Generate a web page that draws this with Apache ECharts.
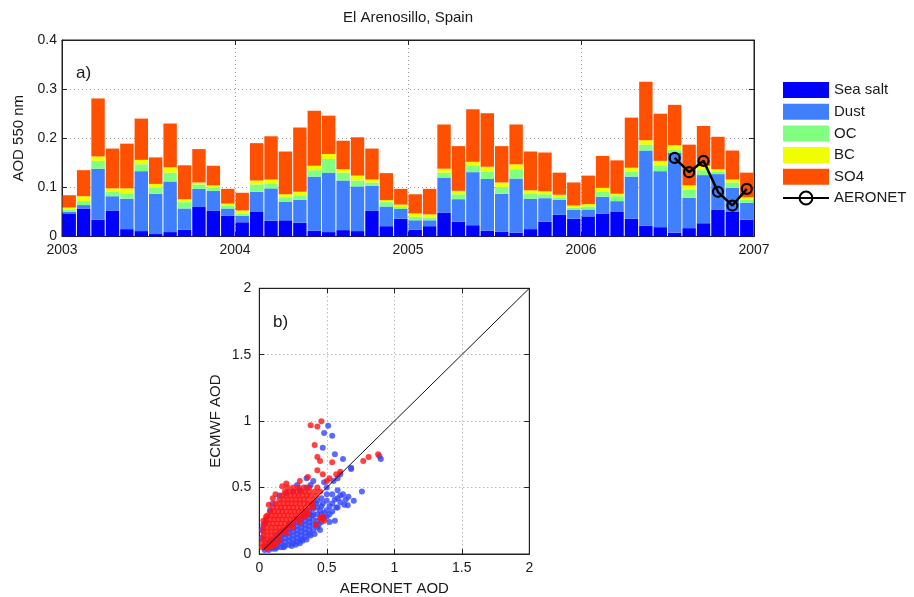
<!DOCTYPE html>
<html>
<head>
<meta charset="utf-8">
<script src="https://cdn.jsdelivr.net/npm/echarts@6/dist/echarts.min.js"></script>
<style>html,body{margin:0;padding:0;background:#fff;}#c{width:914px;height:597px;}</style>
</head>
<body>
<div id="c"></div>
<script>
// ---- Panel a) monthly stacked AOD components, Jan 2003 .. Dec 2006 ----
const months = ['2003-01','2003-02','2003-03','2003-04','2003-05','2003-06','2003-07','2003-08','2003-09','2003-10','2003-11','2003-12',
  '2004-01','2004-02','2004-03','2004-04','2004-05','2004-06','2004-07','2004-08','2004-09','2004-10','2004-11','2004-12',
  '2005-01','2005-02','2005-03','2005-04','2005-05','2005-06','2005-07','2005-08','2005-09','2005-10','2005-11','2005-12',
  '2006-01','2006-02','2006-03','2006-04','2006-05','2006-06','2006-07','2006-08','2006-09','2006-10','2006-11','2006-12'];
const seaSalt = [.047,.057,.034,.053,.015,.011,.005,.009,.014,.060,.052,.042,
  .029,.051,.032,.033,.028,.012,.009,.013,.011,.052,.021,.036,
  .014,.021,.048,.030,.023,.012,.010,.008,.015,.030,.044,.036,
  .041,.046,.051,.036,.022,.019,.008,.017,.027,.055,.050,.034];
const dust = [.003,.007,.104,.029,.062,.122,.082,.103,.043,.037,.041,.015,
  .013,.040,.066,.038,.047,.110,.121,.101,.091,.051,.040,.020,
  .019,.012,.072,.046,.108,.105,.077,.110,.062,.048,.031,.018,
  .014,.035,.021,.086,.153,.114,.162,.062,.098,.072,.049,.035];
const oc = [.005,.008,.016,.009,.011,.014,.012,.018,.013,.009,.006,.006,
  .004,.015,.010,.009,.009,.013,.028,.016,.012,.007,.009,.004,
  .007,.005,.010,.010,.014,.015,.014,.019,.010,.008,.005,.005,
  .006,.011,.010,.010,.012,.012,.007,.017,.010,.005,.011,.006];
const bc = [.004,.010,.009,.007,.010,.009,.008,.011,.006,.004,.005,.004,
  .007,.008,.008,.006,.007,.009,.010,.007,.010,.006,.004,.005,
  .007,.007,.008,.007,.007,.010,.009,.010,.007,.006,.005,.004,
  .005,.007,.005,.008,.009,.009,.009,.008,.009,.005,.006,.005];
const so4 = [.025,.053,.118,.081,.091,.084,.054,.089,.069,.068,.040,.030,
  .036,.076,.088,.087,.131,.112,.078,.058,.078,.063,.055,.032,
  .039,.052,.090,.091,.107,.109,.074,.081,.079,.079,.045,.047,
  .058,.065,.068,.102,.119,.096,.082,.083,.081,.066,.059,.050];
const aeronet = [null,null,null,null,null,null,null,null,null,null,null,null,
  null,null,null,null,null,null,null,null,null,null,null,null,
  null,null,null,null,null,null,null,null,null,null,null,null,
  null,null,null,null,null,null,.160,.131,.154,.091,.063,.097];
const yearTicks = ['2003','2004','2005','2006','2007'];
const aodTicks = ['0','0.1','0.2','0.3','0.4'];

// ---- Panel b) scatter ECMWF vs AERONET (hand-estimated representative points) ----
const bluePoints = [
  [0.04,0.03],[0.04,0.06],[0.07,0.03],[0.07,0.06],[0.07,0.09],[0.10,0.04],[0.10,0.07],[0.10,0.10],
  [0.13,0.05],[0.13,0.08],[0.13,0.11],[0.13,0.14],[0.16,0.05],[0.16,0.08],[0.16,0.11],[0.16,0.14],[0.16,0.17],
  [0.19,0.06],[0.19,0.09],[0.19,0.12],[0.19,0.15],[0.19,0.18],[0.22,0.07],[0.22,0.10],[0.22,0.13],[0.22,0.16],[0.22,0.19],[0.22,0.22],
  [0.25,0.08],[0.25,0.11],[0.25,0.14],[0.25,0.17],[0.25,0.20],[0.25,0.23],[0.28,0.09],[0.28,0.12],[0.28,0.15],[0.28,0.18],[0.28,0.21],[0.28,0.24],[0.28,0.27],
  [0.31,0.11],[0.31,0.14],[0.31,0.17],[0.31,0.20],[0.31,0.23],[0.31,0.26],[0.31,0.29],
  [0.34,0.13],[0.34,0.16],[0.34,0.19],[0.34,0.22],[0.34,0.25],[0.34,0.28],[0.34,0.31],
  [0.37,0.15],[0.37,0.18],[0.37,0.21],[0.37,0.24],[0.37,0.27],[0.37,0.30],[0.37,0.33],
  [0.40,0.18],[0.40,0.22],[0.40,0.26],[0.40,0.30],[0.40,0.34],[0.40,0.37],
  [0.43,0.20],[0.43,0.25],[0.43,0.30],[0.43,0.35],[0.43,0.40],[0.46,0.24],[0.46,0.30],[0.46,0.36],[0.46,0.42],
  [0.50,0.28],[0.50,0.33],[0.50,0.40],[0.50,0.45],[0.54,0.32],[0.54,0.38],[0.54,0.45],[0.58,0.35],[0.58,0.42],[0.58,0.48],
  [0.02,0.12],[0.02,0.18],[0.03,0.22],[0.05,0.24],[0.08,0.33],[0.10,0.38],[0.15,0.44],[0.20,0.46],[0.25,0.47],[0.30,0.48],
  [0.35,0.50],[0.38,0.52],[0.40,0.55],[0.35,0.57],[0.28,0.52],
  [0.51,0.965],[0.48,0.91],[0.54,0.89],[0.47,0.80],[0.56,0.75],[0.62,0.715],[0.90,0.715],[0.89,0.735],[0.68,0.64],[0.68,0.65],
  [0.58,0.57],[0.48,0.54],[0.76,0.47],[0.70,0.40],[0.655,0.367],[0.63,0.37],[0.57,0.35],[0.56,0.25],[0.48,0.31],[0.42,0.22],
  [0.60,0.60],[0.55,0.55],[0.50,0.50],[0.62,0.45],[0.66,0.43],[0.52,0.24],[0.45,0.18],[0.38,0.14],[0.32,0.10],[0.27,0.07],
  [0.12,0.04],[0.18,0.05],[0.24,0.06],[0.30,0.08],[0.35,0.11],[0.41,0.15],[0.44,0.22],[0.48,0.27],[0.52,0.30],[0.60,0.39],
  [0.64,0.41],[0.45,0.33],[0.39,0.29],[0.42,0.38],[0.47,0.38],[0.52,0.36],[0.56,0.41],[0.60,0.44]
];
const redPoints = [
  [0.02,0.05],[0.04,0.05],[0.06,0.05],[0.02,0.08],[0.05,0.08],[0.08,0.08],[0.03,0.11],[0.06,0.11],[0.09,0.11],[0.12,0.11],
  [0.03,0.14],[0.06,0.14],[0.09,0.14],[0.12,0.14],[0.15,0.14],[0.03,0.17],[0.06,0.17],[0.09,0.17],[0.12,0.17],[0.15,0.17],[0.18,0.17],
  [0.03,0.20],[0.06,0.20],[0.09,0.20],[0.12,0.20],[0.15,0.20],[0.18,0.20],[0.21,0.20],
  [0.04,0.23],[0.07,0.23],[0.10,0.23],[0.13,0.23],[0.16,0.23],[0.19,0.23],[0.22,0.23],[0.25,0.23],
  [0.05,0.26],[0.08,0.26],[0.11,0.26],[0.14,0.26],[0.17,0.26],[0.20,0.26],[0.23,0.26],[0.26,0.26],[0.29,0.26],
  [0.06,0.29],[0.09,0.29],[0.12,0.29],[0.15,0.29],[0.18,0.29],[0.21,0.29],[0.24,0.29],[0.27,0.29],[0.30,0.29],[0.33,0.29],
  [0.08,0.32],[0.11,0.32],[0.14,0.32],[0.17,0.32],[0.20,0.32],[0.23,0.32],[0.26,0.32],[0.29,0.32],[0.32,0.32],[0.35,0.32],
  [0.10,0.35],[0.13,0.35],[0.16,0.35],[0.19,0.35],[0.22,0.35],[0.25,0.35],[0.28,0.35],[0.31,0.35],[0.34,0.35],[0.37,0.35],
  [0.12,0.38],[0.15,0.38],[0.18,0.38],[0.21,0.38],[0.24,0.38],[0.27,0.38],[0.30,0.38],[0.33,0.38],[0.36,0.38],[0.39,0.38],
  [0.15,0.41],[0.18,0.41],[0.21,0.41],[0.24,0.41],[0.27,0.41],[0.30,0.41],[0.33,0.41],[0.36,0.41],[0.40,0.41],
  [0.17,0.44],[0.20,0.44],[0.23,0.44],[0.26,0.44],[0.29,0.44],[0.32,0.44],[0.35,0.44],[0.38,0.44],[0.42,0.44],
  [0.19,0.47],[0.22,0.47],[0.25,0.47],[0.28,0.47],[0.31,0.47],[0.34,0.47],[0.37,0.47],[0.41,0.47],[0.45,0.47],
  [0.21,0.50],[0.25,0.50],[0.29,0.50],[0.33,0.50],[0.37,0.50],[0.43,0.50],
  [0.20,0.16],[0.25,0.20],[0.30,0.24],[0.33,0.28],[0.36,0.30],[0.40,0.35],[0.45,0.27],[0.42,0.22],[0.47,0.28],
  [0.06,0.04],[0.09,0.05],[0.12,0.07],[0.15,0.10],[0.10,0.07],
  [0.07,0.37],[0.10,0.42],[0.05,0.28],[0.03,0.25],[0.12,0.45],[0.20,0.53],[0.17,0.51],
  [0.46,1.00],[0.38,0.97],[0.43,0.96],[0.41,0.82],[0.43,0.73],[0.45,0.70],[0.54,0.69],[0.43,0.63],[0.47,0.60],[0.57,0.60],
  [0.88,0.75],[0.81,0.73],[0.77,0.70],[0.36,0.58],[0.50,0.55],[0.52,0.57],[0.60,0.62],[0.30,0.55],[0.46,0.27],[0.48,0.25]
];
const oneToOne = [[0.03,0.03],[2,2]];
const scatterTicks = ['0','0.5','1','1.5','2'];

const FONT = '"Liberation Sans", Arial, Helvetica, sans-serif';
const TXT = '#1a1a1a';
const gridLine = {show:true, lineStyle:{color:'#9a9a9a', type:[1,3], width:1}};
const tick = {show:true, inside:true, length:5, lineStyle:{color:'#222'}};
const axLine = {show:true, onZero:false, lineStyle:{color:'#222', width:1}};
const lbl = {color:TXT, fontSize:14, fontFamily:FONT};

function barSeries(name, data, color){
  return {name, type:'bar', stack:'aod', xAxisIndex:0, yAxisIndex:0, data,
    barCategoryGap:'7%', itemStyle:{color}, emphasis:{disabled:true}};
}

const chart = echarts.init(document.getElementById('c'), null, {renderer:'canvas'});
chart.setOption({
  animation:false,
  backgroundColor:'#fff',
  textStyle:{fontFamily:FONT},
  grid:[
    {left:62, top:40, width:692, height:196.5, show:true, borderColor:'#222', borderWidth:1},
    {left:259.3, top:288.3, width:270, height:267.4, show:true, borderColor:'#222', borderWidth:1}
  ],
  legend:{
    orient:'vertical', left:777, top:77, itemWidth:46, itemHeight:16, itemGap:5.7,
    textStyle:{color:TXT, fontSize:15, fontFamily:FONT},
    data:[{name:'Sea salt',icon:'rect'},{name:'Dust',icon:'rect'},{name:'OC',icon:'rect'},{name:'BC',icon:'rect'},{name:'SO4',icon:'rect'},{name:'AERONET'}]
  },
  xAxis:[
    {type:'category', gridIndex:0, position:'bottom', data:months, show:false, boundaryGap:true},
    {type:'value', gridIndex:0, position:'bottom', min:0, max:48, interval:12, axisLine:axLine, axisTick:tick, splitLine:gridLine,
      axisLabel:Object.assign({margin:7, formatter:(v)=>yearTicks[v/12]}, lbl)},
    {type:'value', gridIndex:0, position:'top', min:0, max:48, interval:12, axisLine:axLine, axisTick:tick, splitLine:{show:false}, axisLabel:{show:false}},
    {type:'value', gridIndex:1, position:'bottom', min:0, max:2, interval:0.5, axisLine:axLine, axisTick:tick, splitLine:gridLine,
      axisLabel:Object.assign({margin:7, formatter:(v)=>scatterTicks[Math.round(v*2)]}, lbl),
      name:'AERONET AOD', nameLocation:'middle', nameGap:27, nameTextStyle:{color:TXT, fontSize:15, fontFamily:FONT}},
    {type:'value', gridIndex:1, position:'top', min:0, max:2, interval:0.5, axisLine:axLine, axisTick:tick, splitLine:{show:false}, axisLabel:{show:false}}
  ],
  yAxis:[
    {type:'value', gridIndex:0, position:'left', min:0, max:0.4, interval:0.1, axisLine:axLine, axisTick:tick, splitLine:gridLine,
      axisLabel:Object.assign({margin:5, formatter:(v)=>aodTicks[Math.round(v*10)]}, lbl),
      name:'AOD 550 nm', nameLocation:'middle', nameGap:31, nameTextStyle:{color:TXT, fontSize:15, fontFamily:FONT}},
    {type:'value', gridIndex:0, position:'right', min:0, max:0.4, interval:0.1, axisLine:axLine, axisTick:tick, splitLine:{show:false}, axisLabel:{show:false}},
    {type:'value', gridIndex:1, position:'left', min:0, max:2, interval:0.5, axisLine:axLine, axisTick:tick, splitLine:gridLine,
      axisLabel:Object.assign({margin:8, formatter:(v)=>scatterTicks[Math.round(v*2)]}, lbl),
      name:'ECMWF AOD', nameLocation:'middle', nameGap:36, nameTextStyle:{color:TXT, fontSize:15, fontFamily:FONT}},
    {type:'value', gridIndex:1, position:'right', min:0, max:2, interval:0.5, axisLine:axLine, axisTick:tick, splitLine:{show:false}, axisLabel:{show:false}}
  ],
  series:[
    barSeries('Sea salt', seaSalt, '#0000ff'),
    barSeries('Dust', dust, '#4080ff'),
    barSeries('OC', oc, '#80ff80'),
    barSeries('BC', bc, '#f0ff00'),
    barSeries('SO4', so4, '#ff5000'),
    {name:'AERONET', type:'line', xAxisIndex:0, yAxisIndex:0, data:aeronet, connectNulls:false,
      symbol:'circle', symbolSize:10, showSymbol:true, showAllSymbol:true,
      itemStyle:{color:'rgba(0,0,0,0)', borderColor:'#000', borderWidth:2.2},
      lineStyle:{color:'#000', width:2.5}, z:5},
    {type:'scatter', xAxisIndex:3, yAxisIndex:2, data:bluePoints, symbolSize:6,
      itemStyle:{color:'#3246ff'}, z:2},
    {type:'scatter', xAxisIndex:3, yAxisIndex:2, data:redPoints, symbolSize:6,
      itemStyle:{color:'#ff1414'}, z:3},
    {type:'line', xAxisIndex:3, yAxisIndex:2, data:oneToOne, symbol:'none',
      lineStyle:{color:'#111', width:1}, z:4}
  ],
  graphic:[
    {type:'text', x:408, y:18, style:{text:'El Arenosillo, Spain', fill:TXT, fontSize:15, fontFamily:FONT, textAlign:'center', textVerticalAlign:'middle'}},
    {type:'text', x:76, y:73, style:{text:'a)', fill:TXT, fontSize:17, fontFamily:FONT, textAlign:'left', textVerticalAlign:'middle'}},
    {type:'text', x:273, y:322, style:{text:'b)', fill:TXT, fontSize:17, fontFamily:FONT, textAlign:'left', textVerticalAlign:'middle'}}
  ]
});
</script>
</body>
</html>
